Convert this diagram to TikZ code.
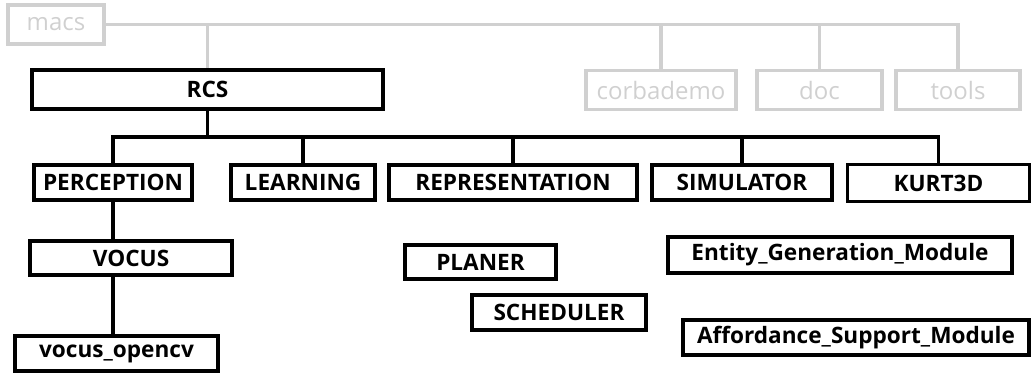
\documentclass[tikz,border=0pt]{standalone}
\usepackage{fontspec}
\setmainfont{Open Sans}
\definecolor{dirgrey}{RGB}{208,208,208}

\begin{document}
\begin{tikzpicture}[x=1pt,y=-1pt,
  dirbox/.style={draw=black,line width=3.2pt,inner sep=0pt,minimum height=35pt,
    font=\fontsize{22.6}{26}\selectfont\bfseries},
  greybox/.style={draw=dirgrey,line width=3.2pt,inner sep=0pt,minimum height=39pt,
    text=dirgrey,font=\fontsize{24}{28}\selectfont},
  dirline/.style={line width=3.2pt},
  greyline/.style={draw=dirgrey,line width=3.2pt}]
\useasboundingbox (0,0) rectangle (1032,372);
% top level, greyed out
\node[greybox,minimum width=96pt] (macs) at (56,24.5) {macs};
\node[greybox,minimum width=150pt] (corba) at (661,90) {corbademo};
\node[greybox,minimum width=125pt] (doc) at (819.5,90) {doc};
\node[greybox,minimum width=124pt] (tools) at (958,90) {tools};
\node[dirbox,minimum width=351pt,minimum height=39pt] (rcs) at (207.5,89.5) {RCS};
% second level
\node[dirbox,minimum width=158pt] (perc) at (113,182.5) {PERCEPTION};
\node[dirbox,minimum width=144pt] (learn) at (303,182.5) {LEARNING};
\node[dirbox,minimum width=248pt] (repr) at (513,182.5) {REPRESENTATION};
\node[dirbox,minimum width=180pt] (sim) at (742,182.5) {SIMULATOR};
\node[dirbox,minimum width=182pt,minimum height=37pt] (kurt) at (938.5,183) {KURT3D};
% third level
\node[dirbox,minimum width=202pt,minimum height=34pt] (vocus) at (131,258) {VOCUS};
\node[dirbox,minimum width=203pt] (opencv) at (116.5,353.5) {vocus\_opencv};
\node[dirbox,minimum width=151pt,minimum height=34pt] (planer) at (480.5,262) {PLANER};
\node[dirbox,minimum width=174pt] (sched) at (559,312.5) {SCHEDULER};
\node[dirbox,minimum width=344pt,minimum height=36pt] (entity) at (840,255) {Entity\_Generation\_Module};
\node[dirbox,minimum width=346pt] (afford) at (856,337.5) {Affordance\_Support\_Module};
% grey tree
\draw[greyline] (macs.east) -- (tools.north |- macs.east) -- (tools.north);
\foreach \n in {rcs,corba,doc}
  \draw[greyline] (\n.north |- macs.east) -- (\n.north);
% black tree
\coordinate (bus) at (0,137);
\draw[dirline] (perc.north) -- (perc.north |- bus) -- (kurt.north |- bus) -- (kurt.north);
\foreach \n in {rcs,learn,repr,sim}
  \draw[dirline] (\n) -- (\n |- bus);
\draw[dirline] (perc.south) -- (perc.south |- vocus.north);
\draw[dirline] (perc.south |- vocus.south) -- (perc.south |- opencv.north);
\end{tikzpicture}
\end{document}
